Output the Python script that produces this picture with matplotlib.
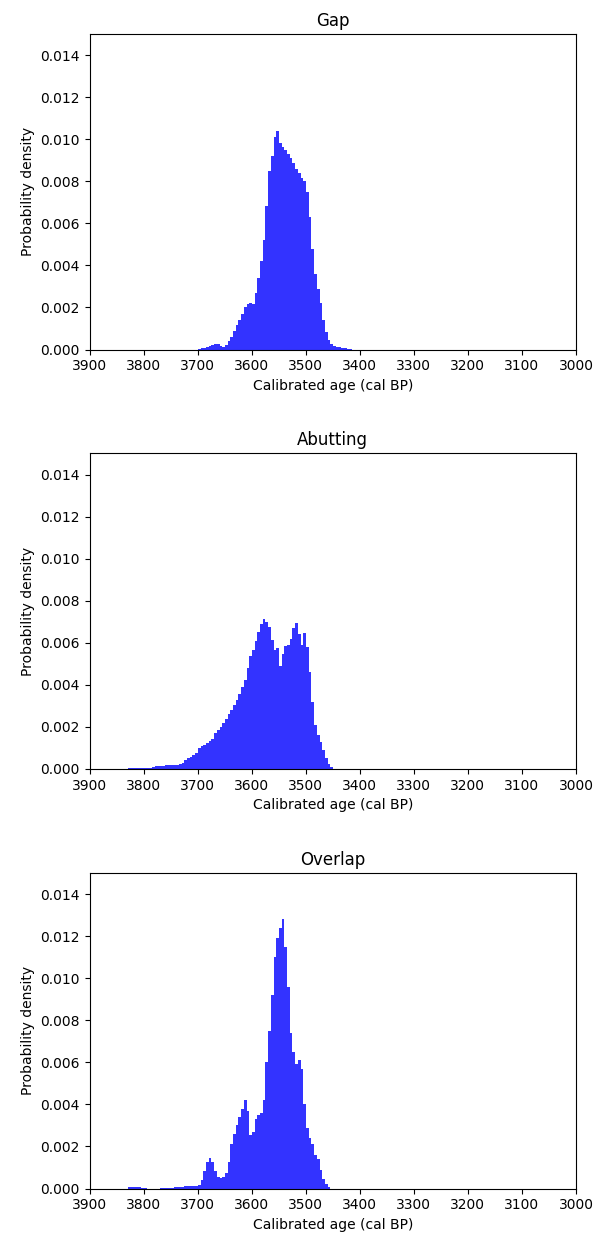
import matplotlib
matplotlib.use("Agg")
import matplotlib.pyplot as plt
import numpy as np

# bin centres (cal BP) and probability density
gap_age = [3697, 3692, 3687, 3682, 3677, 3672, 3667, 3662, 3657, 3652,
           3647, 3642, 3637, 3632, 3627, 3622, 3617, 3612, 3607, 3602,
           3597, 3592, 3587, 3582, 3577, 3572, 3567, 3562, 3557, 3552,
           3547, 3542, 3537, 3532, 3527, 3522, 3517, 3512, 3507, 3502,
           3497, 3492, 3487, 3482, 3477, 3472, 3467, 3462, 3457, 3452,
           3447, 3442, 3437, 3432, 3427, 3422, 3417]
gap_dens = [0.00003, 0.00005, 0.00008, 0.00012, 0.00018, 0.00022, 0.00026, 0.00024, 0.00018, 0.00012,
            0.00022, 0.00040, 0.00060, 0.00090, 0.00115, 0.00140, 0.00170, 0.00200, 0.00215, 0.00220,
            0.00215, 0.00270, 0.00340, 0.00420, 0.00520, 0.00680, 0.00850, 0.00920, 0.01010, 0.01040,
            0.00980, 0.00965, 0.00950, 0.00930, 0.00910, 0.00885, 0.00860, 0.00840, 0.00815, 0.00800,
            0.00750, 0.00630, 0.00480, 0.00360, 0.00290, 0.00220, 0.00140, 0.00085, 0.00045, 0.00025,
            0.00016, 0.00012, 0.00010, 0.00008, 0.00006, 0.00004, 0.00002]

abut_age = [3827, 3822, 3817, 3812, 3807, 3802, 3797, 3792, 3787, 3782,
            3777, 3772, 3767, 3762, 3757, 3752, 3747, 3742, 3737, 3732,
            3727, 3722, 3717, 3712, 3707, 3702, 3697, 3692, 3687, 3682,
            3677, 3672, 3667, 3662, 3657, 3652, 3647, 3642, 3637, 3632,
            3627, 3622, 3617, 3612, 3607, 3602, 3597, 3592, 3587, 3582,
            3577, 3572, 3567, 3562, 3557, 3552, 3547, 3542, 3537, 3532,
            3527, 3522, 3517, 3512, 3507, 3502, 3497, 3492, 3487, 3482,
            3477, 3472, 3467, 3462, 3457, 3452]
abut_dens = [0.00005, 0.00005, 0.00005, 0.00006, 0.00006, 0.00006, 0.00007, 0.00007, 0.00007, 0.00008,
             0.00013, 0.00013, 0.00014, 0.00014, 0.00019, 0.00019, 0.00020, 0.00020, 0.00020, 0.00022,
             0.00030, 0.00042, 0.00052, 0.00058, 0.00066, 0.00075, 0.00100, 0.00110, 0.00115, 0.00122,
             0.00132, 0.00145, 0.00172, 0.00185, 0.00200, 0.00218, 0.00240, 0.00262, 0.00280, 0.00305,
             0.00330, 0.00355, 0.00390, 0.00425, 0.00480, 0.00535, 0.00565, 0.00610, 0.00650, 0.00690,
             0.00715, 0.00700, 0.00675, 0.00615, 0.00565, 0.00575, 0.00490, 0.00545, 0.00585, 0.00590,
             0.00620, 0.00670, 0.00695, 0.00640, 0.00590, 0.00645, 0.00580, 0.00460, 0.00320, 0.00210,
             0.00160, 0.00130, 0.00090, 0.00050, 0.00025, 0.00008]

over_age = [3827, 3822, 3817, 3812, 3807, 3802, 3797, 3792, 3787, 3782,
            3777, 3772, 3767, 3762, 3757, 3752, 3747, 3742, 3737, 3732,
            3727, 3722, 3717, 3712, 3707, 3702, 3697, 3692, 3687, 3682,
            3677, 3672, 3667, 3662, 3657, 3652, 3647, 3642, 3637, 3632,
            3627, 3622, 3617, 3612, 3607, 3602, 3597, 3592, 3587, 3582,
            3577, 3572, 3567, 3562, 3557, 3552, 3547, 3542, 3537, 3532,
            3527, 3522, 3517, 3512, 3507, 3502, 3497, 3492, 3487, 3482,
            3477, 3472, 3467, 3462, 3457]
over_dens = [0.00005, 0.00006, 0.00006, 0.00006, 0.00005, 0.00004, 0.00003, 0.0, 0.0, 0.0,
             0.0, 0.0, 0.00003, 0.00004, 0.00004, 0.00004, 0.00004, 0.00005, 0.00005, 0.00005,
             0.00006, 0.00010, 0.00011, 0.00011, 0.00012, 0.00013, 0.00018, 0.00040, 0.00085, 0.00125,
             0.00145, 0.00128, 0.00085, 0.00055, 0.00048, 0.00055, 0.00075, 0.00125, 0.00210, 0.00260,
             0.00300, 0.00340, 0.00380, 0.00420, 0.00370, 0.00255, 0.00270, 0.00330, 0.00350, 0.00360,
             0.00420, 0.00600, 0.00750, 0.00920, 0.01100, 0.01190, 0.01240, 0.01280, 0.01150, 0.00960,
             0.00740, 0.00650, 0.00590, 0.00610, 0.00570, 0.00400, 0.00290, 0.00240, 0.00210, 0.00160,
             0.00140, 0.00090, 0.00045, 0.00020, 0.00006]

titles = ["Gap", "Abutting", "Overlap"]
bin_w = 5

W, H = 596, 1235
fig = plt.figure(figsize=(W / 100, H / 100), dpi=100)

# axes boxes in pixels: left, bottom (from top), width, height
left, width, height = 89.5, 486.5, 315.5
bottoms = [349.5, 769.0, 1188.5]

data = [(gap_age, gap_dens), (abut_age, abut_dens), (over_age, over_dens)]

for title, (age, dens), bot in zip(titles, data, bottoms):
    ax = fig.add_axes([left / W, 1 - bot / H, width / W, height / H])
    age = np.array(age, dtype=float)
    edges = np.append(age + bin_w / 2, age[-1] - bin_w / 2)
    ax.stairs(dens, edges, fill=True, color="blue", alpha=0.8, linewidth=0)
    ax.set_xlim(3900, 3000)
    ax.set_ylim(0, 0.015)
    ax.set_xticks(np.arange(3900, 2999, -100))
    ax.set_yticks(np.arange(0, 0.0141, 0.002))
    ax.set_title(title, fontsize=12)
    ax.set_xlabel("Calibrated age (cal BP)")
    ax.set_ylabel("Probability density")

fig.savefig("out.png", dpi=100)
